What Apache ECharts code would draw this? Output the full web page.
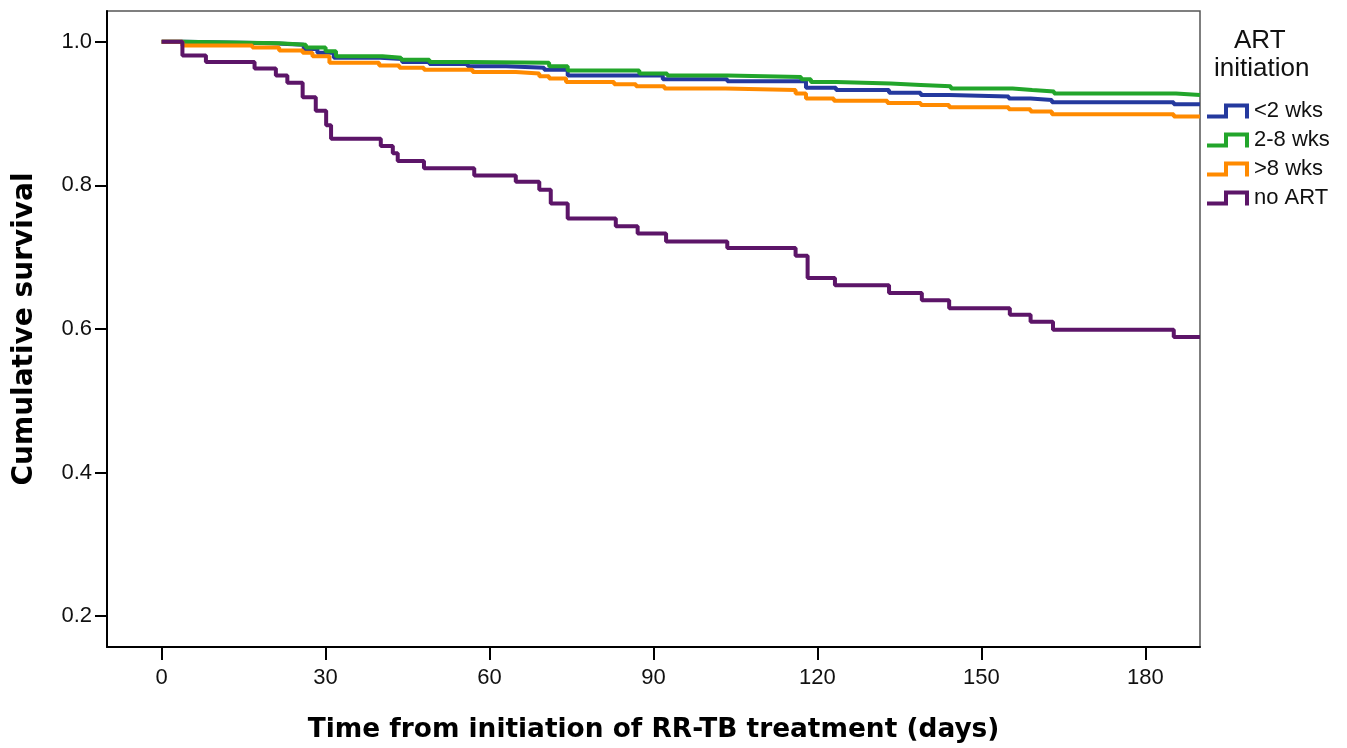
<!DOCTYPE html>
<html>
<head>
<meta charset="utf-8">
<script src="https://cdn.jsdelivr.net/npm/echarts@6/dist/echarts.min.js"></script>
<style>html,body{margin:0;padding:0;background:#fff}#c{width:1347px;height:748px}</style>
</head>
<body>
<div id="c"></div>
<script>
// ---- data ----
const seriesNames = ['<2 wks', '2-8 wks', '>8 wks', 'no ART'];
const xTicks = [0, 30, 60, 90, 120, 150, 180];
const yTicks = [0.2, 0.4, 0.6, 0.8, 1.0];

const lt2Days = [0, 4, 20, 26, 28.5, 31.5, 40, 44, 49, 56, 63, 70, 74.3, 91.7, 103.5, 117.9, 123.4, 133.1, 138.9, 144.1, 155, 159, 162.9, 185.2, 190];
const lt2Surv = [1.0, 0.998, 0.996, 0.990, 0.985, 0.978, 0.976, 0.972, 0.969, 0.966, 0.964, 0.961, 0.953, 0.948, 0.945, 0.936, 0.933, 0.929, 0.926, 0.924, 0.921, 0.919, 0.916, 0.913, 0.913];

const w28Days = [0, 4, 21.5, 26.4, 30, 31.9, 40.4, 43.8, 49, 56.3, 70.9, 74.3, 87.4, 92.5, 103.5, 117, 118.8, 123.4, 133.4, 138.9, 144.4, 155.7, 159.3, 163.3, 185.6, 190];
const w28Surv = [1.0, 0.998, 0.996, 0.992, 0.987, 0.980, 0.978, 0.975, 0.972, 0.971, 0.966, 0.960, 0.956, 0.953, 0.951, 0.948, 0.944, 0.942, 0.940, 0.938, 0.935, 0.933, 0.931, 0.928, 0.926, 0.926];

const gt8Days = [0, 3.8, 16.6, 21.5, 25.8, 27.6, 30.7, 39.8, 43.5, 48, 56.9, 64.8, 69.1, 70.9, 74, 82.8, 86.8, 92, 103.2, 116, 117.9, 123, 132.8, 138.9, 144.1, 155, 159, 162.9, 185.2, 190];
const gt8Surv = [1.0, 0.995, 0.992, 0.988, 0.985, 0.980, 0.971, 0.967, 0.964, 0.961, 0.958, 0.956, 0.952, 0.949, 0.944, 0.941, 0.938, 0.935, 0.933, 0.928, 0.921, 0.918, 0.915, 0.912, 0.909, 0.906, 0.903, 0.899, 0.896, 0.896];

const noArtDays = [0, 3.8, 8.1, 17, 20.9, 23, 25.8, 28.2, 30.1, 31, 40.1, 42.3, 43.2, 48, 57.2, 64.8, 69.1, 71.2, 74.3, 83.1, 87.1, 92.3, 103.5, 116, 118.2, 123.2, 133.1, 139.1, 144.1, 155.2, 159, 163.1, 185.2, 190];
const noArtSurv = [1.0, 0.981, 0.972, 0.963, 0.953, 0.943, 0.923, 0.904, 0.884, 0.865, 0.855, 0.845, 0.834, 0.824, 0.814, 0.805, 0.794, 0.775, 0.754, 0.743, 0.733, 0.722, 0.713, 0.702, 0.671, 0.661, 0.650, 0.640, 0.629, 0.620, 0.610, 0.599, 0.589, 0.589];

const colors = ['#24399e', '#22a52b', '#ff8a00', '#5c1568'];

function pairs(d, s) { return d.map((t, i) => [t, s[i]]); }

const chart = echarts.init(document.getElementById('c'), null, { renderer: 'canvas' });
const font = 'Liberation Sans, Arial, sans-serif';
const titleFont = 'DejaVu Sans, Verdana, sans-serif';
const stepIcon = 'path://M0,11 L17,11 L17,0 L42,0 L42,15 L38,15 L38,4 L21,4 L21,15 L0,15 Z';

const seriesData = [pairs(lt2Days, lt2Surv), pairs(w28Days, w28Surv), pairs(gt8Days, gt8Surv), pairs(noArtDays, noArtSurv)];

chart.setOption({
  animation: false,
  backgroundColor: '#fff',
  grid: { left: 107, top: 11, right: 147, bottom: 96, show: true, borderColor: '#555', borderWidth: 1.5, containLabel: false },
  xAxis: {
    type: 'value', min: -10, max: 190,
    name: 'Time from initiation of RR-TB treatment (days)',
    nameLocation: 'middle', nameGap: 70,
    nameTextStyle: { fontFamily: titleFont, fontWeight: 'bold', fontSize: 26.4, color: '#000' },
    axisLine: { show: true, onZero: false, lineStyle: { color: '#000', width: 2 } },
    axisTick: { show: true, length: 13, customValues: xTicks, lineStyle: { color: '#000', width: 2 } },
    axisLabel: { customValues: xTicks, fontFamily: font, fontSize: 22, color: '#111', margin: 20 },
    splitLine: { show: false }
  },
  yAxis: {
    type: 'value', min: 0.157, max: 1.043,
    name: 'Cumulative survival',
    nameLocation: 'middle', nameGap: 68,
    nameTextStyle: { fontFamily: titleFont, fontWeight: 'bold', fontSize: 28, color: '#000' },
    axisLine: { show: true, onZero: false, lineStyle: { color: '#000', width: 2 } },
    axisTick: { show: true, length: 12, customValues: yTicks, lineStyle: { color: '#000', width: 2 } },
    axisLabel: { customValues: yTicks, fontFamily: font, fontSize: 22, color: '#111', margin: 15,
      formatter: v => v.toFixed(1) },
    splitLine: { show: false }
  },
  legend: {
    orient: 'vertical', left: 1202, top: 95,
    data: seriesNames,
    icon: stepIcon, itemWidth: 42, itemHeight: 15, itemGap: 7,
    textStyle: { fontFamily: font, fontSize: 22, color: '#111', lineHeight: 22 }
  },
  graphic: [
    { type: 'text', left: 1274 - 40, top: 28, style: { text: 'ART', fontFamily: font, fontSize: 26, fill: '#111', textAlign: 'center', width: 80 } },
    { type: 'text', left: 1274 - 60, top: 56, style: { text: 'initiation', fontFamily: font, fontSize: 26, fill: '#111', textAlign: 'center', width: 120 } }
  ],
  series: seriesNames.map((n, i) => ({
    name: n, type: 'line', step: 'end', data: seriesData[i],
    showSymbol: false, symbol: 'none', clip: true,
    color: colors[i],
    lineStyle: { color: colors[i], width: 4 },
    z: 2 + i
  }))
});
</script>
</body>
</html>
